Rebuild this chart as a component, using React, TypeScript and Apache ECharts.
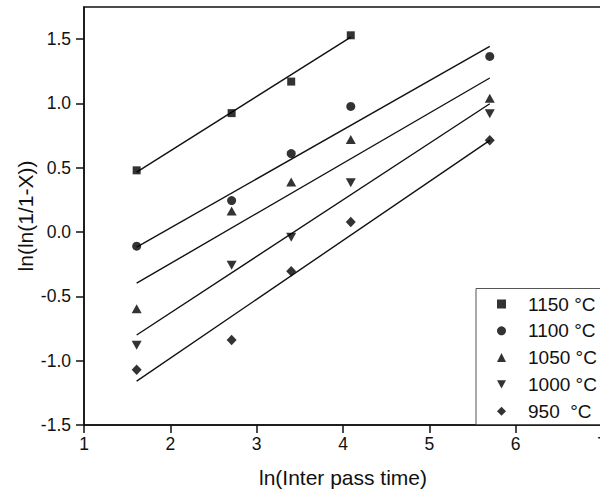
import React, { useEffect, useRef } from "react";
import * as echarts from "echarts";

const xValues = [1.61, 2.71, 3.4, 4.09, 5.7];
const legendNames = ["1150 °C", "1100 °C", "1050 °C", "1000 °C", "950  °C"];
const y1150 = [0.48, 0.925, 1.17, 1.53];
const y1100 = [-0.11, 0.245, 0.61, 0.977, 1.366];
const y1050 = [-0.596, 0.163, 0.39, 0.72, 1.04];
const y1000 = [-0.88, -0.257, -0.04, 0.384, 0.92];
const y950 = [-1.07, -0.84, -0.305, 0.078, 0.713];
const seriesValues = [y1150, y1100, y1050, y1000, y950];
// fitted lines: x range and y at both ends
const fitX0 = [1.61, 1.61, 1.61, 1.61, 1.61];
const fitX1 = [4.09, 5.7, 5.7, 5.7, 5.7];
const fitY0 = [0.466, -0.117, -0.397, -0.8, -1.159];
const fitY1 = [1.516, 1.444, 1.198, 0.998, 0.713];
const yTicks = [-1.5, -1.0, -0.5, 0.0, 0.5, 1.0, 1.5];

const FONT = "'Liberation Sans', Arial, sans-serif";
const symbols = ["rect", "circle", "triangle", "triangle", "diamond"];
const symbolRot = [0, 0, 0, 180, 0];
const symbolSizes: any[] = [8, 9, [10, 9], [10, 9], [10, 10.5]];
const legendIcons = [
  "rect",
  "circle",
  "triangle",
  "path://M0,0L10,0L5,9Z",
  "diamond",
];

export default function App() {
  const ref = useRef<HTMLDivElement>(null);
  useEffect(() => {
    if (!ref.current) return;
    const chart = echarts.init(ref.current, null, { renderer: "svg" });
    const series: any[] = [];
    seriesValues.forEach((vals, i) => {
      series.push({
        name: "fit" + i,
        type: "line",
        data: [
          [fitX0[i], fitY0[i]],
          [fitX1[i], fitY1[i]],
        ],
        symbol: "none",
        lineStyle: { color: "#111", width: 1.4 },
        silent: true,
        z: 2,
      });
      series.push({
        name: legendNames[i],
        type: "scatter",
        data: vals.map((v, j) => [xValues[j], v]),
        symbol: symbols[i],
        symbolRotate: symbolRot[i],
        symbolSize: symbolSizes[i],
        itemStyle: { color: "#000" },
        z: 3,
      });
    });
    chart.setOption({
      animation: false,
      grid: {
        left: 84,
        right: -2,
        top: 7,
        bottom: 71,
        show: true,
        borderColor: "#111",
        borderWidth: 1.5,
        outerBoundsMode: "none",
        containLabel: false,
      },
      xAxis: {
        type: "value",
        min: 1,
        max: 7,
        interval: 1,
        name: "ln(Inter pass time)",
        nameLocation: "middle",
        nameGap: 42,
        nameMoveOverlap: false,
        nameTextStyle: { fontFamily: FONT, fontSize: 21, color: "#111" },
        axisLine: { show: true, onZero: false, lineStyle: { color: "#111", width: 1.5 } },
        axisTick: { show: true, length: 8, inside: false, lineStyle: { color: "#111", width: 1.5 } },
        axisLabel: { fontFamily: FONT, fontSize: 17.5, color: "#111", margin: 10 },
        splitLine: { show: false },
      },
      yAxis: {
        type: "value",
        min: -1.5,
        max: 1.75,
        name: "ln(ln(1/1-X))",
        nameLocation: "middle",
        nameGap: 48,
        nameMoveOverlap: false,
        nameTextStyle: { fontFamily: FONT, fontSize: 21, color: "#111" },
        axisLine: { show: true, onZero: false, lineStyle: { color: "#111", width: 1.5 } },
        axisTick: {
          show: true,
          length: 8,
          inside: false,
          customValues: yTicks,
          lineStyle: { color: "#111", width: 1.5 },
        },
        axisLabel: {
          fontFamily: FONT,
          fontSize: 17.5,
          color: "#111",
          margin: 13,
          customValues: yTicks,
          formatter: (v: number) => v.toFixed(1),
        },
        splitLine: { show: false },
      },
      graphic: [
        {
          type: "rect",
          shape: { x: 476, y: 288.5, width: 140, height: 136 },
          style: { fill: "#fff", stroke: "#555", lineWidth: 1 },
          z: 5,
        },
      ],
      legend: {
        orient: "vertical",
        left: 497,
        top: 294.5,
        padding: 0,
        itemWidth: 9,
        itemHeight: 9,
        itemGap: 7.8,
        z: 10,
        data: legendNames.map((n, i) => ({
          name: n,
          icon: legendIcons[i],
          itemStyle: { color: "#000" },
        })),
        textStyle: {
          fontFamily: FONT,
          fontSize: 19,
          lineHeight: 19,
          color: "#111",
          padding: [0, 0, 0, 17],
        },
      },
      series,
    });
    return () => chart.dispose();
  }, []);
  return (
    <div
      ref={ref}
      style={{ position: "absolute", left: 0, top: 0, width: 600, height: 496 }}
    />
  );
}
